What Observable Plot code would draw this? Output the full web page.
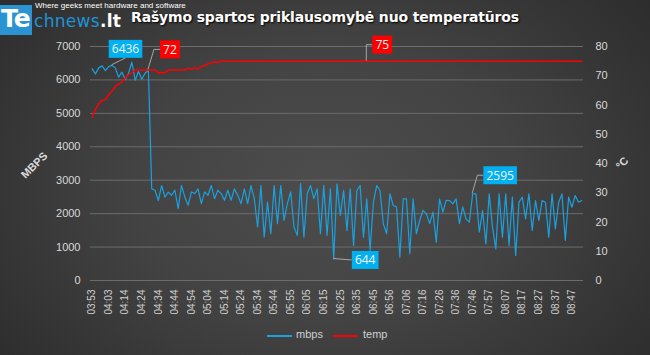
<!DOCTYPE html>
<html><head><meta charset="utf-8">
<script src="https://cdn.jsdelivr.net/npm/d3@7"></script>
<script src="https://cdn.jsdelivr.net/npm/@observablehq/plot@0.6"></script>
<style>
html,body{margin:0;padding:0;}
body{width:650px;height:355px;overflow:hidden;position:relative;
 background:radial-gradient(ellipse 65% 85% at 50% 52%, #4d4d4d 0%, #434343 45%, #2c2c2c 100%);
 font-family:"Liberation Sans",Arial,sans-serif;}
.abs{position:absolute;white-space:nowrap;}
#logoBox{left:0;top:5px;width:32px;height:30px;background:#2a93d1;}
#logoTe{left:1px;top:4px;color:#fff;font:bold 25px "DejaVu Sans",sans-serif;letter-spacing:-1px;line-height:30px;}
#logoRest{left:34px;top:6px;font:17px "DejaVu Sans",sans-serif;line-height:30px;letter-spacing:0.3px;color:#1f93d4;}
#logoRest b{color:#fff;}
#tag{left:35px;top:1px;font:8px "Liberation Sans",Arial,sans-serif;color:#fff;}
#title{left:131px;top:9px;font:bold 14px "DejaVu Sans",sans-serif;color:#fff;text-shadow:1px 1px 2px #000;}
#fig{position:absolute;left:0;top:36px;}
.ylab{font:bold 11px "Liberation Sans",Arial,sans-serif;color:#d9d9d9;transform:translate(-50%,-50%) rotate(-45deg);}
.leg{font:11px "Liberation Sans",Arial,sans-serif;color:#d0d0d0;top:328px;}
.legline{height:1.5px;top:335px;}
</style></head>
<body>
<div id="logoBox" class="abs"></div>
<div id="logoTe" class="abs">Te</div>
<div id="logoRest" class="abs">chnews<b>.lt</b></div>
<div id="tag" class="abs">Where geeks meet hardware and software</div>
<div id="title" class="abs">Rašymo spartos priklausomybė nuo temperatūros</div>
<div id="fig"></div>
<div class="abs ylab" style="left:34px;top:165px;">MBPS</div>
<div class="abs ylab" style="left:622px;top:163px;">°C</div>
<div class="abs legline" style="left:267px;width:25px;background:#1aa1e0;"></div>
<div class="abs leg" style="left:296px;">mbps</div>
<div class="abs legline" style="left:333px;width:25px;background:#ff0000;"></div>
<div class="abs leg" style="left:363px;">temp</div>
<script>
// category positions (one per sampled minute)
const idx = d3.range(0, 297, 2);
const mbps = [6331,6181,6361,6420,6281,6400,6436,6360,6082,6231,6010,6200,6530,5990,6250,6020,6200,6290,
 2740,2700,2393,2841,2492,2642,2550,2700,2150,2840,2500,2250,2650,2600,2740,2300,2650,2550,2840,2450,2700,2600,
 2400,2700,2400,2740,2550,2300,2740,2300,2840,2450,1600,2840,1300,2343,1400,2840,1700,2840,1800,2300,
 2650,1600,1350,2900,1300,2600,2840,2450,2740,1400,2840,1350,2742,644,2891,1944,2692,1496,2742,1047,
 2692,2841,1296,2443,897,2343,2841,2692,1695,1400,2592,2243,2200,698,2443,2443,800,2443,1400,1795,
 2100,2000,1700,2044,1147,2443,2044,2400,2393,2293,2443,1700,2200,1845,1745,2595,2592,1446,2094,1097,
 2592,1595,947,2592,1296,2592,1047,2492,748,2343,2492,1845,2592,1496,2393,1795,2393,2343,1296,2592,
 1545,2343,2592,1196,2492,2193,2542,2343,2393];
const temp = [55.8,58.5,60.4,61.5,61.8,63.5,64.8,66.3,67.2,67.8,69.3,70.3,71.0,72,72,72,72,72,72,72,
 71,71,71,72,72,72,72,72,72,72.6,72.2,72.8,72.3,73.2,73.5,74,74.4,74.8,74.5,
 75,75,75,75,75,75,75,75,75,75,75,75,75,75,75,75,75,75,75,75,75,75,75,75,75,75,75,75,75,75,
 75,75,75,75,75,75,75,75,75,75,75,75,75,75,75,75,75,75,75,75,75,75,75,75,75,75,75,75,75,75,
 75,75,75,75,75,75,75,75,75,75,75,75,75,75,75,75,75,75,75,75,75,75,75,75,75,75,75,75,75,75,
 75,75,75,75,75,75,75,75,75,75,75,75,75,75,75,75,75,75,75,75,75,75,75,75,75,75,75,75,75,75,
 75,75,75,75,75,75,75,75,75,75];
const tickLabels = ["03:53","04:03","04:14","04:24","04:34","04:44","04:54","05:04","05:14","05:24",
 "05:34","05:44","05:55","06:05","06:15","06:25","06:35","06:45","06:56","07:06",
 "07:16","07:26","07:36","07:46","07:57","08:07","08:17","08:27","08:37","08:47"];
const tickIdx = d3.range(0, 291, 10);
const mbpsTicks = [0,1000,2000,3000,4000,5000,6000,7000];
const tempTicks = [0,10,20,30,40,50,60,70,80];
const callouts = [
 {i:12, series:"mbps", text:"6436", fill:"#00b0f0", dx:14, dy:-16, kind:"bottom"},
 {i:34, series:"temp", text:"72", fill:"#ff0000", dx:22, dy:-20, kind:"elbow"},
 {i:166, series:"temp", text:"75", fill:"#ff0000", dx:16, dy:-16, kind:"elbow"},
 {i:146, series:"mbps", text:"644", fill:"#00b0f0", dx:32, dy:1.5, kind:"side"},
 {i:230, series:"mbps", text:"2595", fill:"#00b0f0", dx:28, dy:-18, kind:"elbow"}
];

const K = 7000 / 80;
const rows = idx.map((i, k) => ({i, mbps: mbps[k], temp: temp[k]}));

const chart = Plot.plot({
  width: 650, height: 290,
  marginLeft: 90, marginRight: 67, marginTop: 10, marginBottom: 46,
  style: {background: "transparent", color: "#d9d9d9", fontFamily: "Liberation Sans, Arial, sans-serif", fontSize: "11px", overflow: "visible"},
  x: {domain: [-1, 297]},
  y: {domain: [0, 7000]},
  marks: [
    Plot.gridY(mbpsTicks, {stroke: "#6c6c6c", strokeOpacity: 1}),
    Plot.axisY(mbpsTicks, {anchor: "left", tickSize: 0, tickPadding: 10, label: null, fill: "#d9d9d9", fontSize: 11, tickFormat: d => String(d)}),
    Plot.axisY(tempTicks.map(t => t * K), {anchor: "right", tickSize: 0, tickPadding: 12, label: null, fill: "#d9d9d9", fontSize: 11, tickFormat: d => String(Math.round(d / K))}),
    Plot.axisX(tickIdx, {anchor: "bottom", tickSize: 0, tickPadding: 9, tickRotate: -90, label: null, fill: "#d0d0d0", fontSize: 10, tickFormat: d => tickLabels[tickIdx.indexOf(d)]}),
    Plot.line(rows, {x: "i", y: "mbps", stroke: "#1aa1e0", strokeWidth: 1.2}),
    Plot.line(rows, {x: "i", y: d => d.temp * K, stroke: "#ff0000", strokeWidth: 1.5})
  ]
});
document.getElementById("fig").appendChild(chart);

// data callouts positioned through the chart's scales
const sx = chart.scale("x"), sy = chart.scale("y");
const ns = "http://www.w3.org/2000/svg";
const g = document.createElementNS(ns, "g");
chart.appendChild(g);
for (const c of callouts) {
  const k = idx.indexOf(c.i);
  const v = c.series === "mbps" ? mbps[k] : temp[k] * K;
  const px = sx.apply(c.i), py = sy.apply(v);
  const cx = px + c.dx, cy = py + c.dy;
  const t = document.createElementNS(ns, "text");
  t.setAttribute("x", cx); t.setAttribute("y", cy);
  t.setAttribute("text-anchor", "middle"); t.setAttribute("dy", "0.36em");
  t.setAttribute("fill", "#f4f4f4");
  t.setAttribute("font-family", "Open Sans, Liberation Sans, sans-serif");
  t.setAttribute("font-size", "12");
  t.textContent = c.text;
  g.appendChild(t);
  const bb = t.getBBox();
  const w = bb.width + 6, h = 18;
  const rect = document.createElementNS(ns, "rect");
  rect.setAttribute("x", cx - w / 2); rect.setAttribute("y", cy - h / 2);
  rect.setAttribute("width", w); rect.setAttribute("height", h);
  rect.setAttribute("fill", c.fill);
  g.insertBefore(rect, t);
  const path = document.createElementNS(ns, "path");
  let d;
  if (c.kind === "bottom") d = `M${px},${py}L${cx},${cy + h / 2}`;
  else if (c.kind === "side") d = `M${px},${py}L${cx - w / 2},${cy}`;
  else d = `M${px},${py}L${cx - w / 2 - 6},${cy}L${cx - w / 2},${cy}`;
  path.setAttribute("d", d);
  path.setAttribute("stroke", "#a6a6a6"); path.setAttribute("fill", "none"); path.setAttribute("stroke-width", "1");
  g.insertBefore(path, rect);
}

// fit title width to the reference span
const title = document.getElementById("title");
const tw = title.getBoundingClientRect().width;
const n = title.textContent.length;
title.style.letterSpacing = ((388 - tw) / n) + "px";
</script>
</body></html>
